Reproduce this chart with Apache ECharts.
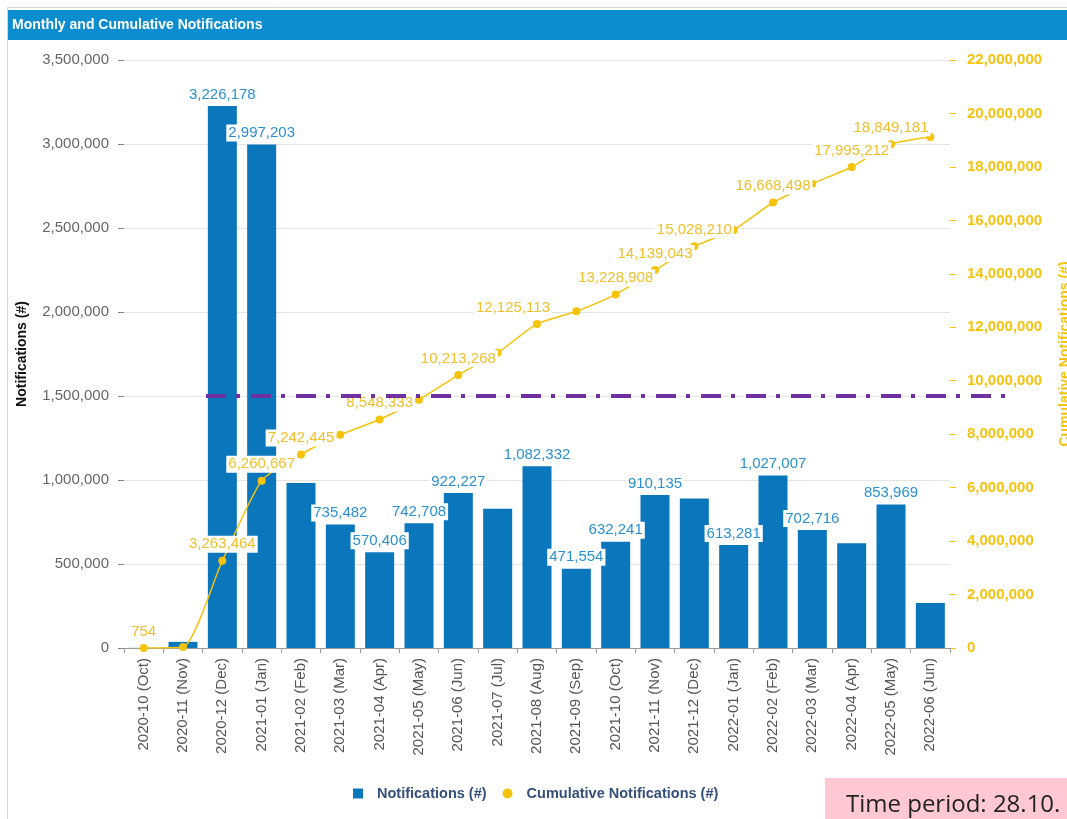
<!DOCTYPE html>
<html>
<head>
<meta charset="utf-8">
<title>Monthly and Cumulative Notifications</title>
<script src="https://cdn.jsdelivr.net/npm/echarts@6/dist/echarts.min.js"></script>
<style>
  html, body { margin: 0; padding: 0; background: #fff; }
  #chart { width: 1067px; height: 819px; }
</style>
</head>
<body>
<div id="chart"></div>
<script>
// 类目
const months = [
  '2020-10 (Oct)', '2020-11 (Nov)', '2020-12 (Dec)', '2021-01 (Jan)', '2021-02 (Feb)',
  '2021-03 (Mar)', '2021-04 (Apr)', '2021-05 (May)', '2021-06 (Jun)', '2021-07 (Jul)',
  '2021-08 (Aug)', '2021-09 (Sep)', '2021-10 (Oct)', '2021-11 (Nov)', '2021-12 (Dec)',
  '2022-01 (Jan)', '2022-02 (Feb)', '2022-03 (Mar)', '2022-04 (Apr)', '2022-05 (May)',
  '2022-06 (Jun)'
];

// 每月通知数
const monthly = [
  754, 36532, 3226178, 2997203, 981778,
  735482, 570406, 742708, 922227, 829513,
  1082332, 471554, 632241, 910135, 889167,
  613281, 1027007, 702716, 623998, 853969,
  268000
];

// 累计通知数
const cumulative = [
  754, 37286, 3263464, 6260667, 7242445,
  7977927, 8548333, 9291041, 10213268, 11042781,
  12125113, 12596667, 13228908, 14139043, 15028210,
  15641491, 16668498, 17371214, 17995212, 18849181,
  19117181
];

// 带数值标签的点
const monthlyLabelIdx = [2, 3, 5, 6, 7, 8, 10, 11, 12, 13, 15, 16, 17, 19];
const cumulativeLabelIdx = [0, 2, 3, 4, 6, 8, 10, 12, 13, 14, 16, 18, 19];

// 紫色参考线
const thresholdValue = 1500000;

// 坐标轴刻度
const leftTicks = { max: 3500000, interval: 500000 };
const rightTicks = { max: 22000000, interval: 2000000 };

const FONT = '"Liberation Sans", Arial, sans-serif';
const BLUE = '#0a76bc';
const YELLOW = '#f5c20c';

const fmt = v => v.toLocaleString('en-US');

const barData = monthly.map((v, i) => ({
  value: v,
  label: { show: monthlyLabelIdx.includes(i) }
}));

const lineData = cumulative.map((v, i) => {
  const item = { value: v, label: { show: cumulativeLabelIdx.includes(i) } };
  // 2021-08 的标签在原图中偏左
  if (i === 10) item.label.offset = [-24, 0];
  return item;
});

const chart = echarts.init(document.getElementById('chart'), null, { renderer: 'canvas' });

chart.setOption({
  animation: false,
  backgroundColor: '#fff',
  textStyle: { fontFamily: FONT },
  title: {
    text: 'Monthly and Cumulative Notifications',
    left: 8,
    top: 18,
    padding: [0, 4],
    z: 10,
    textStyle: { color: '#fff', fontSize: 14, fontWeight: 'bold', fontFamily: FONT }
  },
  graphic: [
    {
      type: 'rect', z: -10, silent: true,
      shape: { x: 7.5, y: 7.5, width: 1075, height: 830 },
      style: { fill: 'none', stroke: '#d6d6d6', lineWidth: 1 }
    },
    {
      type: 'rect', z: -5, silent: true,
      shape: { x: 8, y: 10, width: 1070, height: 30 },
      style: { fill: '#0b8dcf' }
    },
    {
      type: 'rect', silent: true,
      shape: { x: 825, y: 778, width: 250, height: 50 },
      style: { fill: '#ffc8d3' }
    },
    {
      type: 'text', silent: true,
      style: {
        x: 846, y: 805, text: 'Time period: 28.10.', fill: '#222',
        font: '24px "Open Sans", sans-serif', verticalAlign: 'middle'
      }
    }
  ],
  legend: {
    left: 353,
    top: 786,
    padding: 0,
    itemWidth: 10,
    itemHeight: 10,
    itemGap: 16,
    textStyle: { color: '#34507a', fontSize: 14.5, fontWeight: 'bold', fontFamily: FONT, padding: [0, 0, 0, 9] },
    data: [
      { name: 'Notifications (#)', icon: 'rect' },
      { name: 'Cumulative Notifications (#)', icon: 'circle' }
    ]
  },
  grid: { left: 124, right: 117, top: 60, bottom: 171, outerBoundsMode: 'none', containLabel: false },
  xAxis: {
    type: 'category',
    data: months,
    axisLine: { lineStyle: { color: '#9a9a9a' } },
    axisTick: { show: true, length: 5, lineStyle: { color: '#9a9a9a' } },
    axisLabel: { rotate: 90, margin: 10, color: '#555', fontSize: 15, fontFamily: FONT, interval: 0 }
  },
  yAxis: [
    {
      type: 'value',
      min: 0,
      max: leftTicks.max,
      interval: leftTicks.interval,
      name: 'Notifications (#)',
      nameLocation: 'middle',
      nameGap: 95,
      nameTextStyle: { color: '#111', fontSize: 14, fontWeight: 'bold', fontFamily: FONT },
      axisLine: { show: false },
      axisTick: { show: true, length: 6, lineStyle: { color: '#888' } },
      axisLabel: { margin: 15, color: '#666', fontSize: 15, fontFamily: FONT, formatter: fmt },
      splitLine: { lineStyle: { color: '#e4e4e4' } }
    },
    {
      type: 'value',
      min: 0,
      max: rightTicks.max,
      interval: rightTicks.interval,
      position: 'right',
      name: 'Cumulative Notifications (#)',
      nameLocation: 'middle',
      nameGap: 108,
      nameTextStyle: { color: YELLOW, fontSize: 14, fontWeight: 'bold', fontFamily: FONT },
      axisLine: { show: false },
      axisTick: { show: true, length: 6, lineStyle: { color: YELLOW } },
      axisLabel: { margin: 17, color: YELLOW, fontSize: 15, fontWeight: 'bold', fontFamily: FONT, formatter: fmt },
      splitLine: { show: false }
    }
  ],
  series: [
    {
      name: 'Notifications (#)',
      type: 'bar',
      yAxisIndex: 0,
      barWidth: 29,
      itemStyle: { color: BLUE },
      label: {
        position: 'top',
        distance: 3,
        color: '#2a90d0',
        fontSize: 15,
        fontFamily: FONT,
        backgroundColor: '#fff',
        padding: [1, 2],
        formatter: p => fmt(p.value)
      },
      data: barData,
      markLine: {
        silent: true,
        symbol: 'none',
        label: { show: false },
        lineStyle: { color: '#7030a0', width: 4, type: [20, 10, 4, 11], opacity: 1 },
        data: [[
          { coord: [months[2], thresholdValue], x: 206 },
          { coord: [months[20], thresholdValue], x: 1013 }
        ]]
      }
    },
    {
      name: 'Cumulative Notifications (#)',
      type: 'line',
      yAxisIndex: 1,
      smooth: 0.2,
      symbol: 'circle',
      symbolSize: 8,
      lineStyle: { color: YELLOW, width: 1.5 },
      itemStyle: { color: YELLOW },
      label: {
        position: 'top',
        distance: 4,
        color: '#f0bf2a',
        fontSize: 15,
        fontFamily: FONT,
        backgroundColor: '#fff',
        padding: [1, 2],
        formatter: p => fmt(p.value)
      },
      data: lineData
    }
  ]
});
</script>
</body>
</html>
